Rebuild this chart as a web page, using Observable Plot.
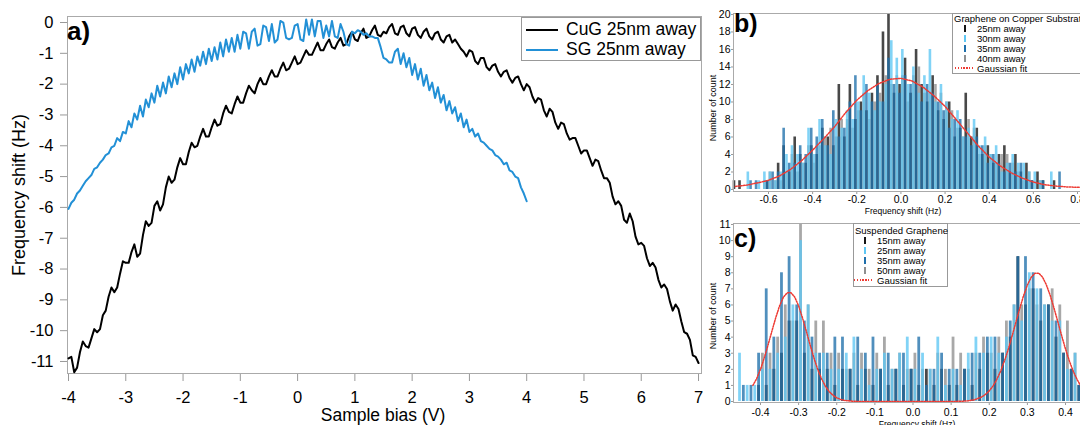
<!DOCTYPE html>
<html><head><meta charset="utf-8">
<script src="https://cdn.jsdelivr.net/npm/d3@7"></script>
<script src="https://cdn.jsdelivr.net/npm/@observablehq/plot@0.6"></script>
<style>
html,body{margin:0;padding:0;background:#fff;overflow:hidden;}
#wrap{position:relative;width:1080px;height:425px;overflow:hidden;font-family:"Liberation Sans",Arial,sans-serif;}
.panel{position:absolute;}
.t{position:absolute;white-space:nowrap;color:#000;line-height:1;}
.box{position:absolute;border:1px solid #999;background:#fff;box-sizing:border-box;}
.sym{position:absolute;}
</style></head><body><div id="wrap"></div>
<script>
// ---------- Panel a data ----------
const cugBias = d3.range(221).map(i => +(-4 + i * 0.05).toFixed(2));
const cugShift = [
 -10.9,-10.85,-11.35,-11.2,-10.7,-10.35,-10.5,-10.55,-10.25,-9.95,
 -10.05,-9.95,-9.5,-9.35,-8.9,-8.6,-8.75,-8.6,-8.15,-7.75,
 -7.8,-7.8,-7.45,-7.2,-7.6,-7.5,-6.9,-6.45,-6.6,-6.5,
 -5.95,-5.8,-6.1,-5.9,-5.35,-5.0,-5.2,-5.1,-4.7,-4.4,
 -4.6,-4.6,-4.2,-3.9,-4.05,-4.0,-3.7,-3.45,-3.7,-3.7,
 -3.4,-3.15,-3.35,-3.3,-2.95,-2.7,-2.9,-2.95,-2.65,-2.4,
 -2.6,-2.6,-2.3,-2.05,-2.2,-2.3,-2.0,-1.8,-2.0,-2.0,
 -1.75,-1.55,-1.75,-1.75,-1.5,-1.3,-1.55,-1.5,-1.3,-1.1,
 -1.35,-1.3,-1.1,-0.9,-1.05,-1.05,-0.85,-0.65,-0.9,-0.9,
 -0.7,-0.55,-0.8,-0.85,-0.65,-0.5,-0.75,-0.7,-0.45,-0.3,
 -0.55,-0.6,-0.35,-0.2,-0.5,-0.45,-0.25,-0.1,-0.4,-0.45,
 -0.3,-0.35,-0.15,-0.05,-0.35,-0.4,-0.15,-0.1,-0.35,-0.45,
 -0.2,-0.15,-0.4,-0.5,-0.3,-0.2,-0.45,-0.55,-0.35,-0.3,
 -0.55,-0.65,-0.45,-0.4,-0.65,-0.55,-0.7,-0.85,-0.95,-1.1,
 -0.9,-0.95,-1.25,-1.35,-1.15,-1.15,-1.45,-1.55,-1.4,-1.35,
 -1.6,-1.75,-1.6,-1.55,-1.8,-1.95,-1.8,-1.75,-2.0,-2.2,
 -2.0,-2.1,-2.4,-2.6,-2.45,-2.5,-2.85,-3.05,-2.8,-2.9,
 -3.25,-3.45,-3.25,-3.3,-3.6,-3.8,-3.75,-3.75,-4.0,-4.25,
 -4.15,-4.15,-4.4,-4.65,-4.45,-4.5,-4.8,-5.05,-5.05,-5.2,
 -5.65,-5.9,-5.8,-5.95,-6.4,-6.5,-6.2,-6.45,-6.95,-7.2,
 -7.15,-7.25,-7.65,-7.9,-7.8,-7.95,-8.35,-8.6,-8.5,-8.65,
 -9.05,-9.35,-9.15,-9.3,-9.7,-10.05,-10.1,-10.3,-10.8,-10.85,
 -11.05];
const sgBias = d3.range(161).map(i => +(-4 + i * 0.05).toFixed(2));
const sgShift = [
 -6.05,-5.85,-5.75,-5.55,-5.45,-5.3,-5.15,-5.05,-4.95,-4.75,
 -4.7,-4.55,-4.45,-4.3,-4.25,-4.05,-4.0,-3.75,-3.85,-3.55,
 -3.6,-3.2,-3.4,-2.95,-3.15,-2.7,-3.05,-2.5,-2.75,-2.3,
 -2.6,-2.05,-2.4,-1.95,-2.3,-1.75,-2.1,-1.65,-2.0,-1.45,
 -1.85,-1.35,-1.65,-1.2,-1.6,-1.1,-1.4,-0.95,-1.35,-0.85,
 -1.25,-0.8,-1.2,-0.65,-1.1,-0.55,-0.95,-0.5,-0.95,-0.4,
 -0.85,-0.3,-0.35,-0.85,-0.3,-0.2,-0.75,-0.7,-0.1,-0.15,
 -0.6,-0.05,-0.65,-0.55,0.05,0.0,-0.5,-0.55,-0.5,-0.1,
 -0.05,-0.55,-0.6,0.1,-0.4,0.1,-0.45,0.05,0.05,-0.5,
 -0.1,-0.45,0.05,-0.45,-0.5,-0.05,-0.3,-0.7,-0.75,-0.3,
 -0.35,-0.25,-0.3,-0.4,-0.35,-0.45,-0.45,-0.5,-0.5,-0.8,
 -1.15,-1.2,-1.3,-1.3,-0.95,-0.85,-1.35,-1.0,-1.45,-1.15,
 -1.7,-1.35,-1.85,-1.5,-2.05,-1.7,-2.2,-1.95,-2.45,-2.1,
 -2.6,-2.35,-2.85,-2.55,-2.95,-2.75,-3.2,-2.95,-3.4,-3.15,
 -3.55,-3.45,-3.7,-3.6,-3.85,-3.9,-4.0,-4.1,-4.15,-4.3,
 -4.35,-4.45,-4.6,-4.55,-4.8,-4.85,-5.0,-5.05,-5.35,-5.55,-5.8];
const aXTicks = [-4,-3,-2,-1,0,1,2,3,4,5,6,7];
const aYTicks = [0,-1,-2,-3,-4,-5,-6,-7,-8,-9,-10,-11];
const aSeries = ["CuG 25nm away", "SG 25nm away"];

// ---------- Panel b data ----------
const bBins = d3.range(60).map(i => +(-0.75 + i * 0.025).toFixed(3));
const b25 = [1,1,0,0,0,0,1,0,3,5, 2,6,4,3,5,4,7,6,5,12, 6,12,8,10,9,11,13,18,20,11, 12,15,11,16,12,10,13,9,8,10, 6,7,11,6,7,4,5,3,4,5, 2,4,2,3,1,2,1,0,1,0];
const b30 = [0,0,2,0,1,2,2,1,2,4, 5,4,3,7,4,8,5,4,8,7, 9,8,10,13,11,9,10,12,17,15, 16,12,14,11,13,16,10,12,10,8, 9,6,7,8,5,6,4,5,2,3, 4,3,3,2,2,1,0,2,0,0];
const b35 = [0,0,0,1,1,0,1,2,2,7, 3,3,5,4,7,6,8,5,9,6, 7,10,13,9,12,10,12,10,15,12, 11,13,12,12,10,12,11,10,9,7, 8,8,6,5,6,5,3,4,3,2, 3,2,3,1,1,0,1,0,0,2];
const b40 = [0,0,0,0,0,1,2,1,1,2, 4,2,3,5,3,5,6,7,6,8, 8,7,9,11,8,10,11,13,12,13, 13,10,13,14,11,11,12,11,10,9, 7,6,8,7,4,5,4,3,4,4, 3,2,1,2,0,1,0,0,0,0];
const bFitX = [-0.75,-0.70,-0.65,-0.60,-0.55,-0.50,-0.45,-0.40,-0.35,-0.30,-0.25,-0.20,-0.15,-0.10,-0.05,0.00,0.05,0.10,0.15,0.20,0.25,0.30,0.35,0.40,0.45,0.50,0.55,0.60,0.65,0.70,0.75,0.80,0.82];
const bFitY = [0.35,0.5,0.75,1.05,1.55,2.3,3.3,4.5,5.8,7.2,8.8,10.2,11.3,12.1,12.6,12.7,12.4,11.7,10.7,9.5,8.0,6.5,5.0,3.7,2.7,1.9,1.3,0.85,0.55,0.4,0.3,0.25,0.25];
const bXTicks = [-0.6,-0.4,-0.2,0,0.2,0.4,0.6,0.8];
const bYTicks = [0,2,4,6,8,10,12,14,16,18,20];
const bSeries = ["25nm away","30nm away","35nm away","40nm away"];

// ---------- Panel c data ----------
const cBins = d3.range(46).map(i => +(-0.46 + i * 0.02).toFixed(3));
const c15 = [0,0,0,1,1,2,3,5,5,3, 2,2,2,1,2,2,1,2,1,2, 1,2,1,2,1,2,1,2,1,1, 2,1,2,3,2,3,4,9,6,7, 5,6,4,3,2,1];
const c25 = [3,1,1,2,2,3,4,6,10,6, 3,3,2,2,3,4,2,1,2,3, 2,3,4,2,3,2,4,1,2,1, 3,4,3,4,3,4,6,5,8,7, 6,5,5,2,3,1];
const c35 = [0,1,1,3,7,4,8,9,6,5, 4,3,3,4,4,2,4,3,4,2, 3,2,3,2,4,1,2,3,2,2, 2,3,3,4,4,3,5,9,9,8, 7,6,5,3,2,1];
const c50 = [0,0,0,3,3,4,6,5,11,6, 5,5,3,3,2,3,3,2,3,4, 2,3,2,3,2,2,3,2,4,3, 2,3,4,3,4,5,6,6,7,6, 6,7,6,5,3,2];
const cFitX = [-0.42,-0.41,-0.40,-0.39,-0.38,-0.37,-0.36,-0.35,-0.34,-0.33,-0.32,-0.31,-0.30,-0.29,-0.28,-0.27,-0.26,-0.25,-0.24,-0.23,-0.22,-0.21,-0.20,-0.19,-0.18,-0.16,-0.14,-0.10,0.0,0.10,0.12,0.14,0.16,0.18,0.19,0.20,0.21,0.22,0.23,0.24,0.25,0.26,0.27,0.28,0.29,0.30,0.31,0.32,0.33,0.34,0.35,0.36,0.37,0.38,0.39,0.40,0.41,0.42,0.43,0.44];
const cFitY = [1.0,1.42,2.0,2.72,3.53,4.38,5.21,5.94,6.48,6.76,6.76,6.48,5.94,5.21,4.38,3.53,2.72,2.0,1.42,0.96,0.62,0.39,0.23,0.13,0.07,0.02,0.0,0.0,0.0,0.0,0.01,0.03,0.10,0.28,0.44,0.66,0.97,1.38,1.90,2.53,3.26,4.08,4.94,5.79,6.58,7.24,7.72,7.97,7.97,7.72,7.24,6.58,5.79,4.94,4.08,3.26,2.53,1.90,1.38,0.97];
const cXTicks = [-0.4,-0.3,-0.2,-0.1,0,0.1,0.2,0.3,0.4];
const cYTicks = [0,1,2,3,4,5,6,7,8,9,10,11];
const cSeries = ["15nm away","25nm away","35nm away","50nm away"];

// ---------- styles ----------
const FONT = '"Liberation Sans", Arial, sans-serif';
const BLACK = "#000", BLUE = "#2290d6";
const HCOL = ["#141414", "#5ec6f3", "#1f6fab", "#8f8f8f"];
const FITC = "#ee3a33";
const fmtInt = d => String(d);
const fmt1 = d => d.toFixed(1);
const wrap = document.getElementById("wrap");

function place(node, left, top) {
  node.classList.add("panel");
  node.style.left = left + "px"; node.style.top = top + "px";
  wrap.appendChild(node);
}
function addText(txt, x, baseline, size, o = {}) {
  const d = document.createElement("div");
  d.className = "t";
  d.textContent = txt;
  d.style.fontSize = size + "px";
  d.style.fontWeight = o.weight || "normal";
  d.style.left = x + "px";
  if (o.rotate) {
    d.style.top = baseline + "px";
    d.style.transform = "translate(-50%,-50%) rotate(-90deg)";
  } else {
    d.style.top = (baseline - 0.8465 * size) + "px";
    if (o.anchor === "middle") d.style.transform = "translateX(-50%)";
    if (o.anchor === "end") d.style.transform = "translateX(-100%)";
  }
  wrap.appendChild(d);
}
function addBox(x, y, w, h) {
  const d = document.createElement("div");
  d.className = "box";
  Object.assign(d.style, {left: x + "px", top: y + "px", width: w + "px", height: h + "px"});
  wrap.appendChild(d);
}
function addSym(x, y, w, h, css) {
  const d = document.createElement("div");
  d.className = "sym";
  Object.assign(d.style, {left: x + "px", top: y + "px", width: w + "px", height: h + "px"}, css);
  wrap.appendChild(d);
}
const dotted = {background: `repeating-linear-gradient(90deg, ${FITC} 0 1.4px, transparent 1.4px 2.8px)`};

// ---------- Panel a ----------
const cugData = cugBias.map((v, i) => ({v, f: cugShift[i]}));
const sgData = sgBias.map((v, i) => ({v, f: sgShift[i]}));
const plotA = Plot.plot({
  width: 703, height: 425,
  marginLeft: 67, marginRight: 2, marginTop: 16, marginBottom: 52,
  style: {fontFamily: FONT, fontSize: "16.5px", background: "transparent", color: "#000"},
  x: {domain: [-4.0175, 7.052]},
  y: {domain: [-11.39, 0.195]},
  marks: [
    Plot.axisX({ticks: aXTicks, tickFormat: fmtInt, tickSize: 8, tickPadding: 10, stroke: "#999", fill: "#000", label: null}),
    Plot.axisY({ticks: aYTicks, tickFormat: fmtInt, tickSize: 7, tickPadding: 7, stroke: "#999", fill: "#000", label: null}),
    Plot.frame({stroke: "#aaa"}),
    Plot.line(cugData, {x: "v", y: "f", stroke: BLACK, strokeWidth: 2}),
    Plot.line(sgData, {x: "v", y: "f", stroke: BLUE, strokeWidth: 2})
  ]
});
place(plotA, 0, 0);

// ---------- Panel b ----------
function histRows(bins, series) {
  return series.map((s, k) => bins.map((x, i) => ({x, n: s[i], k})));
}
const bRows = histRows(bBins, [b25, b30, b35, b40]);
const bOrder = [0, 3, 1, 2];
const bDx = [-1.4, 1.4, -1.4, 1.4];
const plotB = Plot.plot({
  width: 380, height: 215,
  marginLeft: 33, marginRight: 0, marginTop: 13, marginBottom: 24,
  style: {fontFamily: FONT, fontSize: "10.5px", background: "transparent", color: "#000"},
  x: {domain: [-0.7586, 0.8136]},
  y: {domain: [-0.229, 20.11]},
  marks: [
    ...bOrder.map(k => Plot.ruleX(bRows[k], {x: "x", y1: 0, y2: "n", stroke: HCOL[k], strokeWidth: 2.6, strokeOpacity: 0.78, dx: bDx[k], filter: d => d.n > 0})),
    Plot.line(bFitX.map((x, i) => ({x, y: bFitY[i]})), {x: "x", y: "y", stroke: FITC, strokeWidth: 1.5, strokeDasharray: "1.3,1.4"}),
    Plot.axisX({ticks: bXTicks, tickFormat: fmt1, tickSize: 3, tickPadding: 1.5, stroke: "#999", fill: "#000", label: null}),
    Plot.axisY({ticks: bYTicks, tickFormat: fmtInt, tickSize: 2, tickPadding: 1, stroke: "#999", fill: "#000", label: null}),
    Plot.frame({stroke: "#aaa"})
  ]
});
place(plotB, 700, 0);

// ---------- Panel c ----------
const cRows = histRows(cBins, [c15, c25, c35, c50]);
const cOrder = [0, 3, 1, 2];
const cDx = [-1.9, 1.9, -1.9, 1.9];
const plotC = Plot.plot({
  width: 380, height: 210,
  marginLeft: 33, marginRight: 0, marginTop: 8, marginBottom: 23,
  style: {fontFamily: FONT, fontSize: "10.5px", background: "transparent", color: "#000"},
  x: {domain: [-0.4708, 0.4393]},
  y: {domain: [-0.062, 11.062]},
  marks: [
    ...cOrder.map(k => Plot.ruleX(cRows[k], {x: "x", y1: 0, y2: "n", stroke: HCOL[k], strokeWidth: 2.8, strokeOpacity: 0.78, dx: cDx[k], filter: d => d.n > 0})),
    Plot.line(cFitX.map((x, i) => ({x, y: cFitY[i]})), {x: "x", y: "y", stroke: FITC, strokeWidth: 1.5, strokeDasharray: "1.3,1.4"}),
    Plot.axisX({ticks: cXTicks, tickFormat: fmt1, tickSize: 3, tickPadding: 3, stroke: "#999", fill: "#000", label: null}),
    Plot.axisY({ticks: cYTicks, tickFormat: fmtInt, tickSize: 2, tickPadding: 1, stroke: "#999", fill: "#000", label: null}),
    Plot.frame({stroke: "#aaa"})
  ]
});
place(plotC, 700, 215);

// ---------- Texts & legends ----------
addText("a)", 67, 40, 26, {weight: "bold"});
addText("b)", 734, 32, 25, {weight: "bold"});
addText("c)", 734, 247, 25, {weight: "bold"});

addText("Frequency shift (Hz)", 18.5, 195, 18, {rotate: true});
addText("Sample bias (V)", 383, 422, 17.5, {anchor: "middle"});
addText("Number of count", 712.5, 108, 9, {rotate: true});
addText("Frequency shift (Hz)", 903, 214.5, 8.5, {anchor: "middle"});
addText("Number of count", 713, 316, 9, {rotate: true});
addText("Frequency shift (Hz)", 917, 427, 8.5, {anchor: "middle"});

// legend a
addBox(521, 17, 180, 44);
addSym(526, 29, 32, 2, {background: BLACK});
addSym(526, 49, 32, 2, {background: BLUE});
addText(aSeries[0], 566, 36, 17.5);
addText(aSeries[1], 566, 56, 17.5);

// legend b
addBox(952, 13, 140, 61);
addText("Graphene on Copper Substrate", 954, 22, 9.5);
bSeries.forEach((s, k) => {
  const yb = 32 + 10 * k;
  addSym(964, yb - 7, 2, 7, {background: HCOL[k]});
  addText(s, 977, yb, 9.5);
});
addSym(955, 67, 19, 1.5, dotted);
addText("Gaussian fit", 977, 72, 9.5);

// legend c
addBox(853, 223, 95, 64);
addText("Suspended Graphene", 855, 234, 9.5);
cSeries.forEach((s, k) => {
  const yb = 244 + 10 * k;
  addSym(864, yb - 7, 2, 7, {background: HCOL[k]});
  addText(s, 877, yb, 9.5);
});
addSym(854, 279, 19, 1.5, dotted);
addText("Gaussian fit", 877, 284, 9.5);
</script></body></html>
